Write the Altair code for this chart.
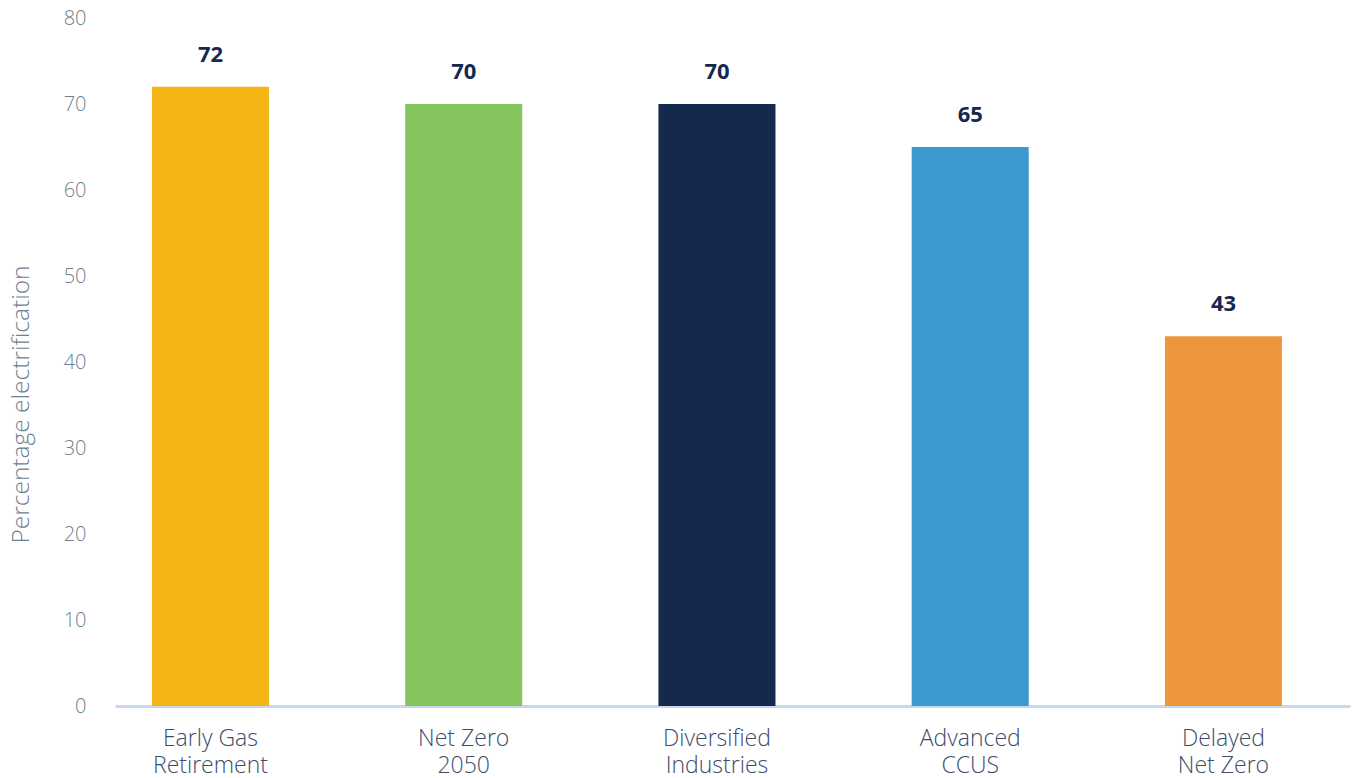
import altair as alt
import pandas as pd

categories = ["Early Gas|Retirement", "Net Zero|2050", "Diversified|Industries", "Advanced|CCUS", "Delayed|Net Zero"]
values = [72, 70, 70, 65, 43]
colors = ["#F4B414", "#84C55E", "#15284D", "#3A9AD0", "#EE963B"]

df = pd.DataFrame({"cat": categories, "val": values, "color": colors})

FONT = "Open Sans"
GREY = "#6E8191"

x = alt.X("cat:N", sort=categories, title=None,
          scale=alt.Scale(paddingInner=0.538, paddingOuter=0.2073, align=0.352),
          axis=alt.Axis(labelAngle=0, labelExpr="split(datum.label, '|')",
                        labelFont=FONT, labelFontSize=23, labelFontWeight=300,
                        labelColor="#3B4D6B", labelLineHeight=27, labelPadding=21,
                        labelBaseline="top",
                        ticks=False, domain=True, domainColor="#C9D7EE", domainWidth=3,
                        grid=False))
y = alt.Y("val:Q", title="Percentage electrification",
          scale=alt.Scale(domain=[0, 80], nice=False),
          axis=alt.Axis(values=[0, 10, 20, 30, 40, 50, 60, 70, 80], ticks=False, domain=False,
                        grid=False, labelFont=FONT, labelFontSize=20, labelFontWeight=300,
                        labelColor=GREY, labelPadding=29,
                        titleFont=FONT, titleFontSize=24.5, titleFontWeight=300,
                        titleColor=GREY, titleX=-87, titleY=386, titleAngle=-90,
                        titleAlign="center", titleBaseline="alphabetic"))

bars = alt.Chart(df).mark_bar().encode(
    x=x, y=y, color=alt.Color("color:N", scale=None)
)
text = alt.Chart(df).mark_text(font=FONT, fontSize=22, fontWeight="bold", color="#152850",
                               baseline="alphabetic", dy=-25).encode(
    x=alt.X("cat:N", sort=categories), y="val:Q", text="val:Q"
)

chart = alt.layer(bars, text).properties(
    width=1235, height=688,
    autosize=alt.AutoSizeParams(type="none"),
    padding={"left": 115, "top": 18, "right": 3, "bottom": 72},
).configure(background="white").configure_view(stroke=None)

chart.save("out.html", embed_options={"renderer": "svg", "actions": False})
